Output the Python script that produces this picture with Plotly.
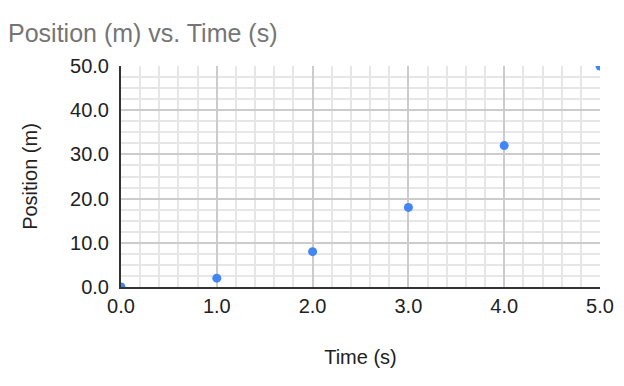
import plotly.graph_objects as go

time_s = [0, 1, 2, 3, 4, 5]
position_m = [0, 2, 8, 18, 32, 50]
x_ticks = [0, 1, 2, 3, 4, 5]
y_ticks = [0, 10, 20, 30, 40, 50]

fig = go.Figure()
fig.add_trace(go.Scatter(
    x=time_s, y=position_m, mode="markers",
    marker=dict(color="#4285F4", size=9),
    cliponaxis=True, showlegend=False,
))

font_family = "Liberation Sans, Arial, sans-serif"

fig.update_layout(
    width=624, height=386,
    margin=dict(l=113, r=32, t=58, b=107),
    paper_bgcolor="white", plot_bgcolor="white",
    font=dict(family=font_family, size=20, color="#222222"),
    title=dict(text="Position (m) vs. Time (s)", font=dict(size=25, color="#757575"),
               xref="container", x=0, xanchor="left",
               yref="container", y=1 - 25 / 386, yanchor="middle"),
    xaxis=dict(
        range=[0, 5], tickvals=x_ticks, tickformat=".1f",
        showgrid=True, gridcolor="#cccccc", gridwidth=2,
        minor=dict(dtick=0.2, showgrid=True, gridcolor="#e6e6e6", gridwidth=2),
        showline=True, linecolor="#333333", linewidth=2,
        zeroline=False, ticks="", ticklabelstandoff=0,
        title=dict(text="Time (s)", standoff=34, font=dict(size=20)),
        automargin=False,
    ),
    yaxis=dict(
        range=[0, 50], tickvals=y_ticks, tickformat=".1f",
        showgrid=True, gridcolor="#cccccc", gridwidth=2,
        minor=dict(dtick=2.5, showgrid=True, gridcolor="#e6e6e6", gridwidth=2),
        showline=True, linecolor="#333333", linewidth=2,
        zeroline=False, ticks="", ticklabelstandoff=6,
        title=dict(text="Position (m)", standoff=27, font=dict(size=20)),
        automargin=False,
    ),
)

fig.write_html("out.html")
